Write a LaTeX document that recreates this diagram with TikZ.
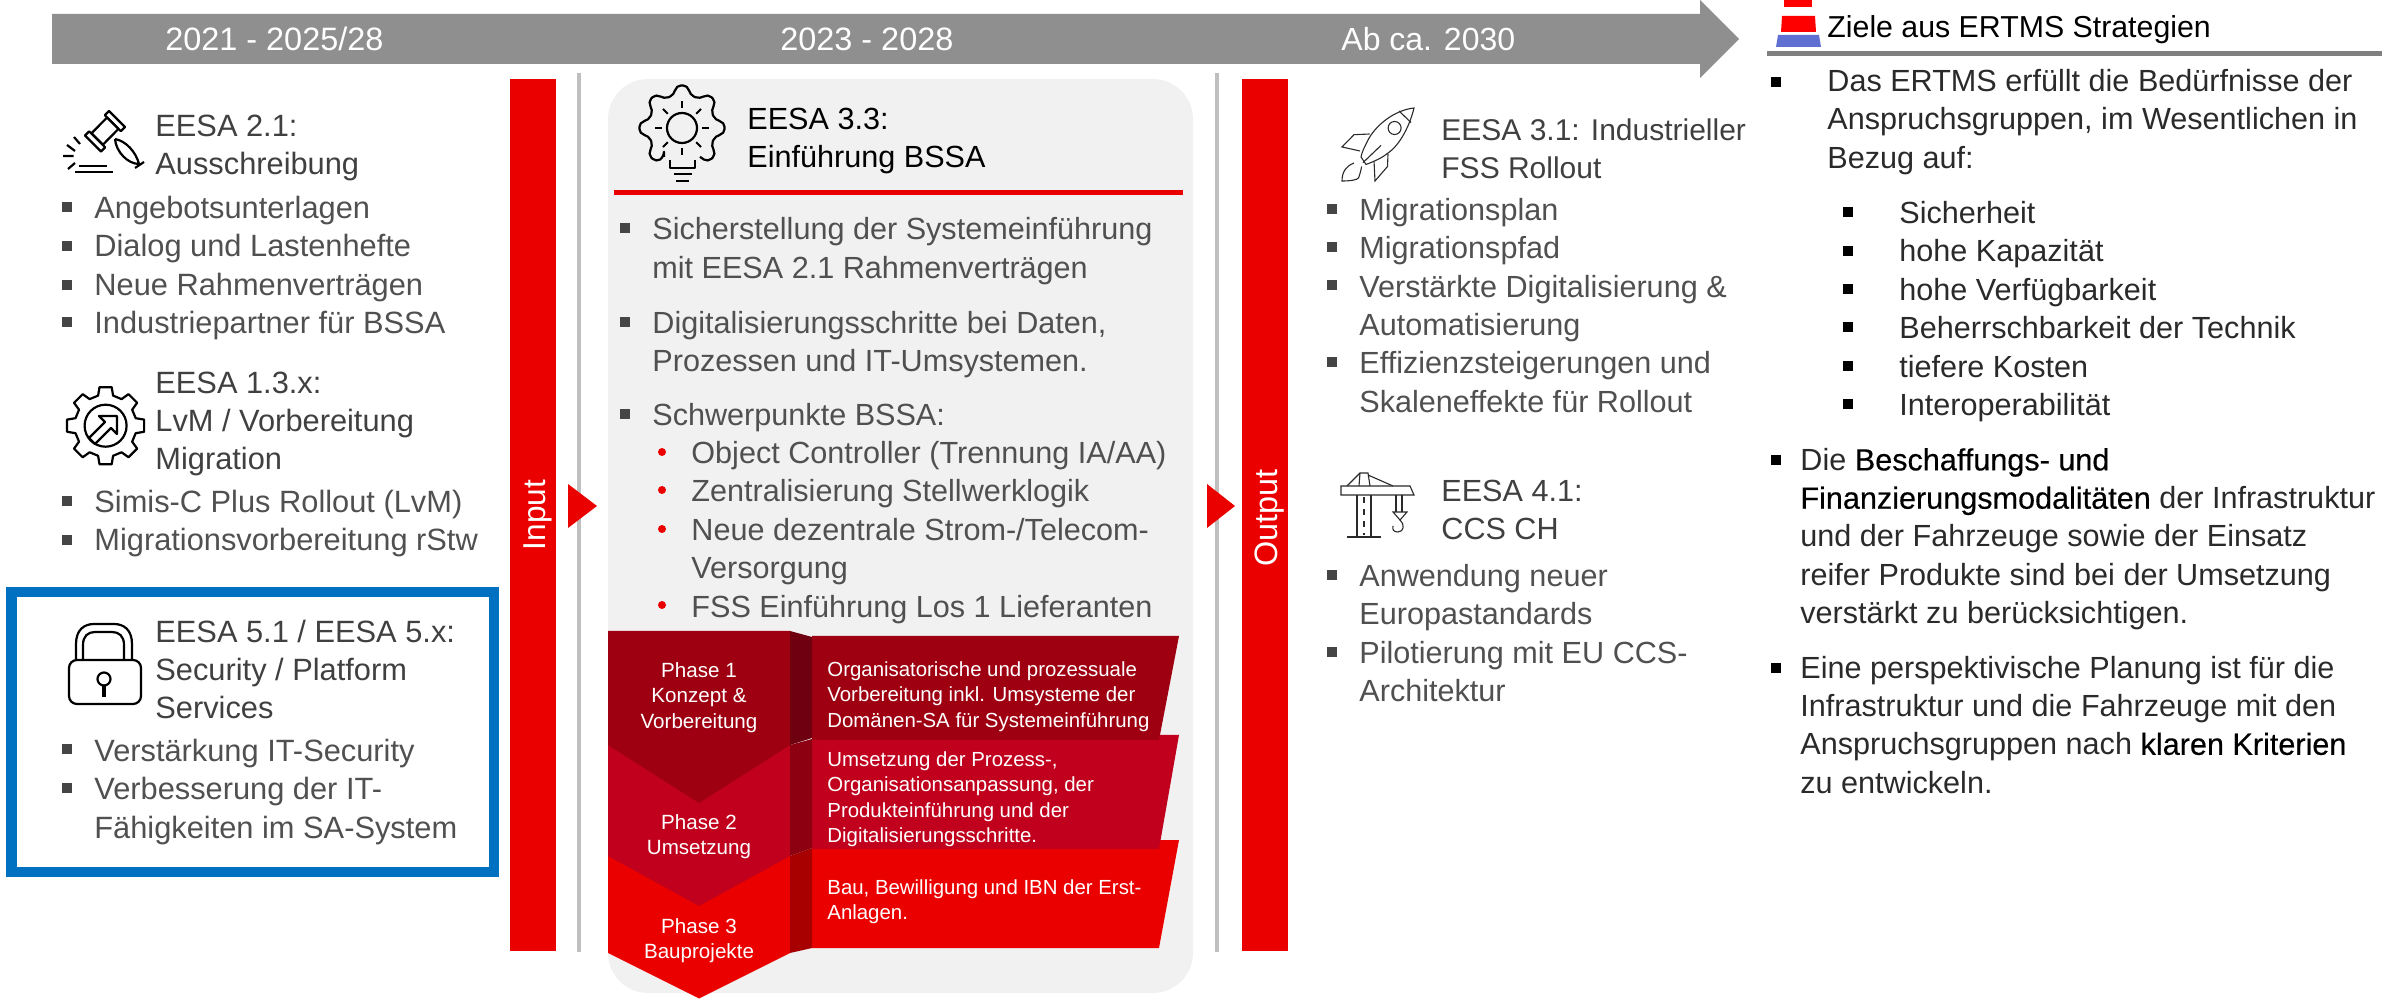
\documentclass[tikz,border=0pt]{standalone}
\usepackage{fontspec}
\setmainfont{Liberation Sans}
\definecolor{hdr}{HTML}{8F8F8F}
\definecolor{sbb}{HTML}{EB0000}
\definecolor{txtg}{HTML}{505050}
\definecolor{txth}{HTML}{404040}
\definecolor{txtk}{HTML}{2A2A2A}
\definecolor{blu}{HTML}{0070C0}
\definecolor{panel}{HTML}{F1F1F1}
\definecolor{pha}{HTML}{9E0012}
\definecolor{phb}{HTML}{C0001C}
\definecolor{fa}{HTML}{6F000F}
\definecolor{fb}{HTML}{8C0012}
\definecolor{fc}{HTML}{A80000}
\definecolor{bul}{HTML}{454545}
\definecolor{coneb}{HTML}{5F70D2}
% name, x, first baseline (px), size pt, leading pt, colour, text
\newcommand\blk[7]{\node[inner sep=0pt,anchor=north west,align=left,text=#6,font=\fontsize{#4}{#5}\selectfont] (#1) at ({#2-2},{#3-1.4*#5}) {\strut #7};}
\newcommand\ctr[7]{\node[inner sep=0pt,anchor=north,align=center,text=#6,font=\fontsize{#4}{#5}\selectfont] (#1) at (#2,{#3-1.4*#5}) {\strut #7};}
\newcommand\sqb[2]{\fill[bul] (#1,#2-5) rectangle ++(10,10);}
\newcommand\sqk[2]{\fill[black] (#1,#2-5) rectangle ++(9.5,10);}
\newcommand\rdot[2]{\fill[sbb] (#1,#2) circle (4);}
\newcommand\strongk[1]{{\addfontfeature{FakeBold=0.35}\textcolor{black}{#1}}}
\tikzset{icon/.style={draw=black,line width=1.1pt,line join=round,fill=none},
         thinicon/.style={draw=txtk,line width=0.55pt,line join=miter,fill=none}}
\begin{document}
\begin{tikzpicture}[x=0.5pt,y=-0.5pt]
\useasboundingbox (0,0) rectangle (2405,999);
% header arrow
\fill[hdr] (52,14) -- (1700,14) -- (1700,0) -- (1739,39) -- (1700,78) -- (1700,64) -- (52,64) -- cycle;
\blk{h1}{167}{50}{16.2}{20}{white}{2021 - 2025/28}
\blk{h2}{782}{50}{16.2}{20}{white}{2023 - 2028}
\blk{h3}{1343}{50}{16}{20}{white}{Ab ca. 2030}
% centre panel
\fill[panel,rounded corners=20pt] (608,79) rectangle (1193,993);
% dividers and bars
\fill[black!25] (577,73) rectangle (581,952);
\fill[black!25] (1215,73) rectangle (1219,952);
\fill[sbb] (510,79) rectangle (556,951);
\fill[sbb] (1242,79) rectangle (1288,951);
\fill[sbb] (568,484) -- (597,506) -- (568,528) -- cycle;
\fill[sbb] (1207,484) -- (1235,506) -- (1207,528) -- cycle;
\node[rotate=90,anchor=base,inner sep=0pt,text=white,font=\fontsize{15.8}{19}\selectfont] (input) at (545,515) {Input};
\node[rotate=90,anchor=base,inner sep=0pt,text=white,font=\fontsize{16.2}{19}\selectfont] (output) at (1277,518) {Output};
% left column
\blk{a1}{157}{136}{15.4}{19}{txth}{EESA 2.1:\\Ausschreibung}
\foreach \y in {207,246,285,322} {\sqb{62}{\y}}
\blk{a2}{96}{218}{15.4}{19.25}{txtg}{Angebotsunterlagen\\Dialog und Lastenhefte\\Neue Rahmenverträgen\\Industriepartner für BSSA}
\blk{b1}{157}{393}{15.4}{19}{txth}{EESA 1.3.x:\\LvM / Vorbereitung\\Migration}
\foreach \y in {501,540} {\sqb{62}{\y}}
\blk{b2}{96}{512}{15.4}{19.25}{txtg}{Simis-C Plus Rollout (LvM)\\Migrationsvorbereitung rStw}
\draw[blu,line width=5.2pt] (11.5,592) rectangle (494,872);
\blk{c1}{157}{642}{15.4}{19}{txth}{EESA 5.1 / EESA 5.x:\\Security / Platform\\Services}
\foreach \y in {749,788} {\sqb{62}{\y}}
\blk{c2}{96}{761}{15.4}{19.25}{txtg}{Verstärkung IT-Security\\Verbesserung der IT-\\Fähigkeiten im SA-System}
% gavel icon
\draw[icon] (107.1,117.5) -- (118.5,128.9) -- (102.9,144.7) -- (91.5,133.3) -- cycle;
\draw[icon] (109,111) -- (125,127) -- (120.8,131.2) -- (104.8,115.2) -- cycle;
\draw[icon] (85,135.5) -- (101,151.5) -- (105.2,147.3) -- (89.2,131.3) -- cycle;
\draw[icon] (115,139) .. controls (126,141) and (136,152) .. (139,164) .. controls (128,164) and (116,152) .. (115,139);
\draw[icon] (135,168) -- (144,162);
\draw[icon] (63,156) -- (73.5,156) (67,145) -- (75,151) (74,137) -- (80,144) (68,169) -- (75,163);
\draw[icon] (79,166) -- (107,166) (75,172) -- (113,172);
% gear icon with arrow
\draw[icon] ({105.6+31*cos(-14)},{425.7+31*sin(-14)})
  \foreach \a in {0,45,...,315} { -- ({105.6+31*cos(\a-14)},{425.7+31*sin(\a-14)}) -- ({105.6+39*cos(\a-9)},{425.7+39*sin(\a-9)}) -- ({105.6+39*cos(\a+9)},{425.7+39*sin(\a+9)}) -- ({105.6+31*cos(\a+14)},{425.7+31*sin(\a+14)}) } -- cycle;
\draw[icon] (105.6,425.7) circle (21);
\draw[icon] (117,416) -- (117,434) -- (111,428) -- (95,444) -- (89,438) -- (105,422) -- (99,416) -- cycle;
% lock icon
\draw[icon,rounded corners=4pt] (69,660) rectangle (141,704);
\draw[icon] (76,660) -- (76,644) .. controls (76,630) and (84,624) .. (94,624) -- (114,624) .. controls (124,624) and (132,630) .. (132,644) -- (132,660);
\draw[icon] (83,660) -- (83,645) .. controls (83,636) and (88,632) .. (95,632) -- (112,632) .. controls (119,632) and (124,636) .. (124,645) -- (124,660);
\draw[icon] (104,679) circle (6.5);
\draw[black,line width=1.6pt] (104,685.5) -- (104,697);
% centre head
\draw[icon,rounded corners=2.5pt] ({682+34*cos(122)},{128+34*sin(122)})
  \foreach \a in {135,180,...,405} { -- ({682+34*cos(\a-13)},{128+34*sin(\a-13)}) -- ({682+43*cos(\a-8)},{128+43*sin(\a-8)}) -- ({682+43*cos(\a+8)},{128+43*sin(\a+8)}) -- ({682+34*cos(\a+13)},{128+34*sin(\a+13)}) };
\draw[icon] (682,128) circle (15);
\foreach \a in {0,45,...,315} {\draw[black,line width=0.9pt] ({682+20*cos(\a)},{128+20*sin(\a)}) -- ({682+27*cos(\a)},{128+27*sin(\a)});}
\draw[icon] (670,160) -- (670,168) -- (695,168) -- (695,160);
\draw[black,line width=1.2pt] (674,174) -- (692,174);
\draw[black,line width=1.4pt] (676,181) -- (689,181);
\blk{d1}{749}{129}{15.3}{19}{black}{EESA 3.3:\\Einführung BSSA}
\fill[sbb] (614,190) rectangle (1183,195);
\foreach \y in {228,322,414} {\sqb{620}{\y}}
\blk{d2}{654}{239.5}{15.3}{19.25}{txtg}{Sicherstellung der Systemeinführung\\mit EESA 2.1 Rahmenverträgen}
\blk{d3}{654}{333}{15.3}{19.25}{txtg}{Digitalisierungsschritte bei Daten,\\Prozessen und IT-Umsystemen.}
\blk{d4}{654}{425}{15.3}{19.25}{txtg}{Schwerpunkte BSSA:}
\foreach \y in {452,490,529,605} {\rdot{662}{\y}}
\blk{d5}{693}{463}{15.3}{19.25}{txtg}{Object Controller (Trennung IA/AA)\\Zentralisierung Stellwerklogik\\Neue dezentrale Strom-/Telecom-\\Versorgung\\FSS Einführung Los 1 Lieferanten}
% phase chevrons
\fill[sbb] (608,856) -- (790,856) -- (790,953) -- (699,998.5) -- (608,953) -- cycle;
\fill[sbb] (812,840) -- (1179,840) -- (1159,948) -- (812,948) -- cycle;
\fill[fc] (790,856) -- (812,848) -- (812,948) -- (790,953) -- cycle;
\fill[phb] (608,745) -- (790,745) -- (790,856) -- (699,906) -- (608,856) -- cycle;
\fill[phb] (812,735) -- (1179,735) -- (1159,849) -- (812,849) -- cycle;
\fill[fb] (790,745) -- (812,739) -- (812,848) -- (790,856) -- cycle;
\fill[pha] (608,631) -- (790,631) -- (790,745) -- (699,803) -- (608,745) -- cycle;
\fill[pha] (812,636) -- (1179,636) -- (1159,740) -- (812,740) -- cycle;
\fill[fa] (790,631) -- (812,637) -- (812,738) -- (790,745) -- cycle;
\ctr{p1}{699}{677}{10.3}{12.75}{white}{Phase 1\\Konzept \&\\Vorbereitung}
\ctr{p2}{699}{829}{10.3}{12.75}{white}{Phase 2\\Umsetzung}
\ctr{p3}{699}{933}{10.3}{12.75}{white}{Phase 3\\Bauprojekte}
\blk{q1}{829}{676}{10.2}{12.7}{white}{Organisatorische und prozessuale\\Vorbereitung inkl. Umsysteme der\\Domänen-SA für Systemeinführung}
\blk{q2}{829}{766}{10.2}{12.75}{white}{Umsetzung der Prozess-,\\Organisationsanpassung, der\\Produkteinführung und der\\Digitalisierungsschritte.}
\blk{q3}{829}{894}{10.2}{12.7}{white}{Bau, Bewilligung und IBN der Erst-\\Anlagen.}
% rocket icon
\draw[thinicon] (1414,108) .. controls (1395,110) and (1375,125) .. (1367,142) .. controls (1364,148) and (1362,152) .. (1361,157) -- (1366,164.5) .. controls (1375,161) and (1382,158) .. (1388,153) .. controls (1400,145) and (1410,125) .. (1414,108) -- cycle;
\draw[thinicon] (1399,111) -- (1411,122.5);
\draw[thinicon] (1394.6,128) circle (6.5);
\draw[thinicon] (1369.6,134) -- (1354,134.7) -- (1342,147) -- (1360,151);
\draw[thinicon] (1388,154) -- (1387.5,166.5) -- (1375,181) -- (1374,161);
\draw[thinicon] (1354,163) .. controls (1346,166) and (1342,172) .. (1342,181) .. controls (1350,181) and (1357,180) .. (1358.5,178) .. controls (1360,174) and (1361,170) .. (1361.6,166.5);
\draw[thinicon] (1381,145.4) -- (1363,162.6);
% right-centre column
\blk{e1}{1443}{140}{15}{19}{txth}{EESA 3.1: Industrieller\\FSS Rollout}
\foreach \y in {209,247,285,362} {\sqb{1327}{\y}}
\blk{e2}{1361}{220}{15.3}{19.2}{txtg}{Migrationsplan\\Migrationspfad\\Verstärkte Digitalisierung \&\\Automatisierung\\Effizienzsteigerungen und\\Skaleneffekte für Rollout}
% crane icon
\draw[thinicon] (1341,486) -- (1410,486) -- (1414,495) -- (1341,495) -- cycle;
\draw[thinicon] (1347,486) -- (1360,473) -- (1368,473) -- (1370,486) (1360,473) -- (1359,486) (1368,475) -- (1393,486);
\draw[thinicon] (1357,495) -- (1357,537) (1371,495) -- (1371,537) (1347,537) -- (1381,537);
\draw[thinicon,dash pattern=on 3pt off 3pt] (1364,497) -- (1364,535);
\draw[thinicon] (1396,495) -- (1396,512) (1402,495) -- (1402,512);
\draw[thinicon] (1393,512) -- (1407,512) -- (1400,520) -- cycle;
\draw[thinicon] (1400,520) .. controls (1405,524) and (1404,532) .. (1398,532) .. controls (1394,532) and (1392,530) .. (1393,526);
\blk{f1}{1443}{501}{15.3}{19}{txth}{EESA 4.1:\\CCS CH}
\foreach \y in {575,652} {\sqb{1327}{\y}}
\blk{f2}{1361}{586}{15.3}{19.25}{txtg}{Anwendung neuer\\Europastandards\\Pilotierung mit EU CCS-\\Architektur}
% right column
\fill[red] (1784,0) rectangle (1812,7);
\fill[red] (1782,16) -- (1815,16) -- (1816,32) -- (1781,32) -- cycle;
\fill[coneb] (1778,35) -- (1819,35) -- (1821,47) -- (1776,47) -- cycle;
\blk{g0}{1829}{37}{15.15}{19}{black}{Ziele aus ERTMS Strategien}
\fill[black!50] (1767,51) rectangle (2382,56);
\sqk{1771}{82}
\blk{g1}{1829}{91}{15.3}{19.25}{txtk}{Das ERTMS erfüllt die Bedürfnisse der\\Anspruchsgruppen, im Wesentlichen in\\Bezug auf:}
\foreach \y in {212,251,289,327,366,404} {\sqk{1843}{\y}}
\blk{g2}{1901}{223}{15.3}{19.25}{txtk}{Sicherheit\\hohe Kapazität\\hohe Verfügbarkeit\\Beherrschbarkeit der Technik\\tiefere Kosten\\Interoperabilität}
\sqk{1771}{460}
\blk{g3}{1802}{470}{15.3}{19.15}{txtk}{Die \strongk{Beschaffungs- und}\\\strongk{Finanzierungsmodalitäten} der Infrastruktur\\und der Fahrzeuge sowie der Einsatz\\reifer Produkte sind bei der Umsetzung\\verstärkt zu berücksichtigen.}
\sqk{1771}{668}
\blk{g4}{1802}{678}{15.3}{19.1}{txtk}{Eine perspektivische Planung ist für die\\Infrastruktur und die Fahrzeuge mit den\\Anspruchsgruppen nach \strongk{klaren Kriterien}\\zu entwickeln.}
\end{tikzpicture}
\end{document}
